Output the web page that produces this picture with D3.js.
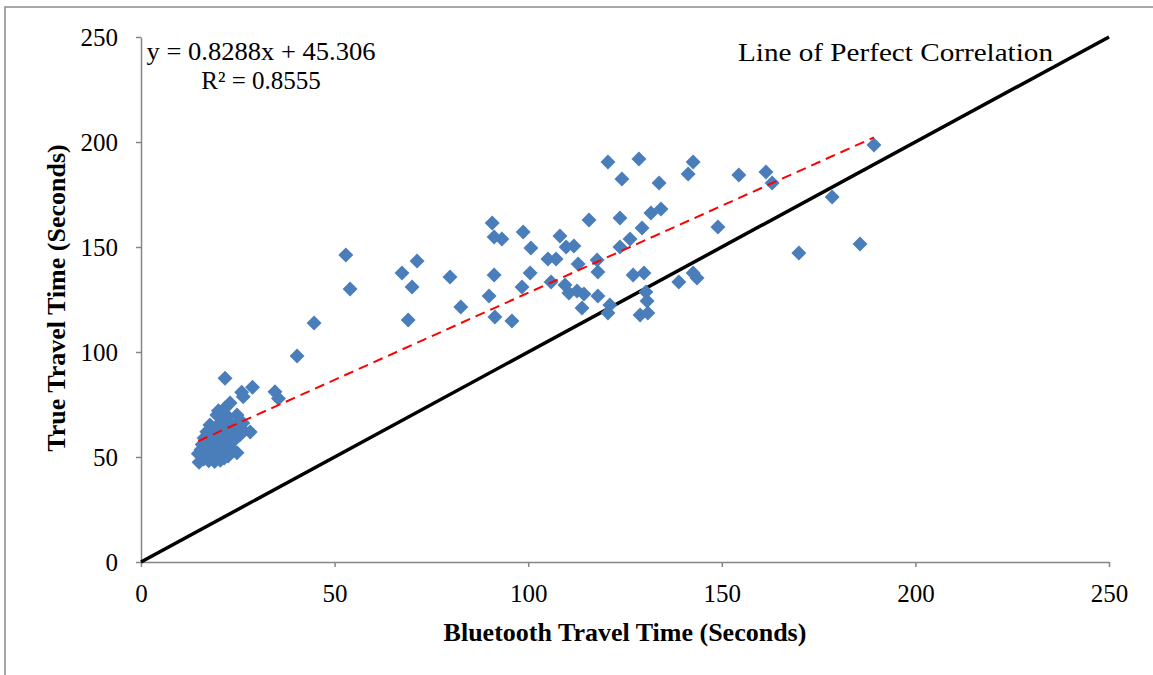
<!DOCTYPE html>
<html>
<head>
<meta charset="utf-8">
<script src="https://cdn.jsdelivr.net/npm/d3@7"></script>
<style>
	body { margin: 0; background: #fff; }
	svg text { font-family: "Liberation Serif", "Times New Roman", serif; fill: #000; }
	.axis path, .axis line { stroke: #868686; stroke-width: 1.5; }
	.axis text { font-size: 25px; }
	.title { font-size: 26px; font-weight: bold; }
	.note { font-size: 25px; }
</style>
</head>
<body>
<div id="chart"></div>
<script>
// Bluetooth travel time (x) vs true travel time (y), in seconds
var bluetoothTimes = [
	189.3, 178.5, 185.7, 169.9, 163.0, 161.4, 154.4, 149.0, 142.6, 141.3,
	133.8, 134.3, 131.7, 128.6, 120.6, 124.2, 123.7, 115.7, 129.4, 126.3,
	123.7, 90.7, 91.2, 93.2, 98.7, 100.7, 108.2, 109.8, 111.8, 105.1,
	107.2, 112.9, 117.8, 118.0, 91.2, 100.5, 105.9, 98.4, 89.9, 109.5,
	110.5, 112.6, 114.4, 118.0, 91.4, 95.8, 113.9, 121.1, 120.6, 127.1,
	129.9, 130.4, 130.7, 128.9, 130.9, 138.9, 142.6, 143.6,
	52.9, 54.0, 44.7, 40.3, 67.4, 71.3, 70.0, 69.0, 79.8, 82.6,
	21.7, 26.0, 26.4, 28.8, 34.6, 35.5,
	15.0, 16.2, 17.5, 19.0, 20.5, 21.5, 14.8, 15.5, 16.5, 17.8,
	18.8, 19.8, 21.0, 22.5, 24.8, 15.8, 17.0, 18.2, 19.5, 20.5,
	21.8, 23.0, 16.3, 17.5, 18.8, 20.0, 21.2, 22.4, 23.5, 24.5,
	25.5, 17.0, 18.5, 19.8, 21.0, 22.3, 23.6, 26.5, 28.2, 17.8,
	19.5, 20.8, 22.0, 23.0, 24.5, 26.3, 19.6, 21.0, 22.3, 24.8,
	21.7, 23.0, 20.0
];
var trueTimes = [
	198.6, 173.8, 151.4, 147.1, 180.5, 185.7, 184.3, 159.5, 190.5, 184.8,
	180.5, 168.1, 166.2, 191.9, 190.5, 182.4, 163.8, 162.9, 159.0, 153.8,
	150.0, 161.4, 154.8, 153.8, 157.1, 149.5, 155.2, 150.0, 150.5, 144.3,
	144.3, 141.9, 143.8, 138.1, 136.7, 137.6, 133.3, 131.0, 126.7, 131.9,
	128.1, 129.0, 127.6, 126.7, 116.7, 114.8, 121.0, 122.4, 118.6, 136.7,
	137.6, 128.6, 124.3, 117.6, 118.6, 133.3, 137.6, 135.2,
	146.2, 130.0, 113.8, 98.1, 137.6, 143.3, 131.0, 115.2, 135.7, 121.4,
	87.5, 80.8, 78.7, 83.2, 81.1, 77.9,
	47.5, 49.0, 48.2, 47.8, 48.5, 49.5, 51.5, 53.5, 51.0, 52.5,
	50.5, 52.0, 51.5, 50.5, 52.0, 56.0, 55.0, 56.5, 55.0, 54.0,
	55.5, 54.5, 59.0, 58.0, 59.5, 58.0, 57.5, 58.5, 57.0, 59.5,
	60.5, 62.0, 62.5, 61.0, 62.5, 61.5, 62.0, 62.5, 61.9, 65.2,
	64.5, 66.0, 64.5, 66.2, 65.0, 66.2, 70.0, 68.5, 69.5, 70.0,
	73.3, 75.7, 72.0
];
var tickValues = [0, 50, 100, 150, 200, 250];

// linear trend as reported on the chart
var trendSlope = 0.8288;
var trendIntercept = 45.306;
var trendLabel = "y = 0.8288x + 45.306";
var r2Label = "R\u00b2 = 0.8555";
var perfectLabel = "Line of Perfect Correlation";
var xTitle = "Bluetooth Travel Time (Seconds)";
var yTitle = "True Travel Time (Seconds)";

var W = 1153, H = 675;
var margin = {top: 37, right: 44, bottom: 113, left: 141};
var width = W - margin.left - margin.right;
var height = H - margin.top - margin.bottom;

var svg = d3.select("#chart").append("svg")
		.attr("width", W)
		.attr("height", H);

// outer frame (only top and left edges show in the picture)
svg.append("path")
	.attr("d", "M5," + H + "V7H" + W)
	.attr("fill", "none")
	.attr("stroke", "#8c8c8c")
	.attr("stroke-width", 1.5);

var g = svg.append("g")
		.attr("transform", "translate(" + margin.left + "," + margin.top + ")");

var x = d3.scaleLinear().domain([0, 250]).range([0, width]);
var y = d3.scaleLinear().domain([0, 250]).range([height, 0]);

// axes
g.append("g")
	.attr("class", "axis")
	.call(d3.axisLeft(y).tickValues(tickValues).tickSizeInner(5).tickSizeOuter(0).tickPadding(18));

g.append("g")
	.attr("class", "axis")
	.attr("transform", "translate(0," + height + ")")
	.call(d3.axisBottom(x).tickValues(tickValues).tickSizeInner(5).tickSizeOuter(0).tickPadding(17));

// line of perfect correlation
g.append("line")
	.attr("x1", x(0)).attr("y1", y(0))
	.attr("x2", x(250)).attr("y2", y(250))
	.attr("stroke", "#000")
	.attr("stroke-width", 3.5);

// points
var points = bluetoothTimes.map(function(d, i) { return [d, trueTimes[i]]; });
var diamond = d3.symbol().type(d3.symbolSquare).size(112);

g.append("g").selectAll("path")
	.data(points)
	.enter().append("path")
		.attr("d", diamond)
		.attr("fill", "#4A7EBB")
		.attr("transform", function(d) {
			return "translate(" + x(d[0]) + "," + y(d[1]) + ") rotate(45)";
		});

// trend line over the data range
var xExt = d3.extent(bluetoothTimes);
g.append("path")
	.datum(xExt)
	.attr("d", d3.line()
		.x(function(d) { return x(d); })
		.y(function(d) { return y(trendSlope * d + trendIntercept); }))
	.attr("fill", "none")
	.attr("stroke", "#FF0000")
	.attr("stroke-width", 2)
	.attr("stroke-dasharray", "10,6");

// labels (the reference text is a bit wider than the font, so stretch glyphs)
svg.append("text").attr("class", "note")
	.attr("x", 261).attr("y", 60)
	.attr("text-anchor", "middle")
	.attr("textLength", 229)
	.attr("lengthAdjust", "spacingAndGlyphs")
	.text(trendLabel);

svg.append("text").attr("class", "note")
	.attr("x", 261).attr("y", 89)
	.attr("text-anchor", "middle")
	.text(r2Label);

svg.append("text").attr("class", "note")
	.style("font-size", "26px")
	.attr("x", 738).attr("y", 61)
	.attr("textLength", 315)
	.attr("lengthAdjust", "spacingAndGlyphs")
	.text(perfectLabel);

svg.append("text").attr("class", "title")
	.attr("x", margin.left + width / 2).attr("y", 641)
	.attr("text-anchor", "middle")
	.text(xTitle);

svg.append("text").attr("class", "title")
	.attr("transform", "translate(65,298) rotate(-90)")
	.attr("text-anchor", "middle")
	.text(yTitle);
</script>
</body>
</html>
